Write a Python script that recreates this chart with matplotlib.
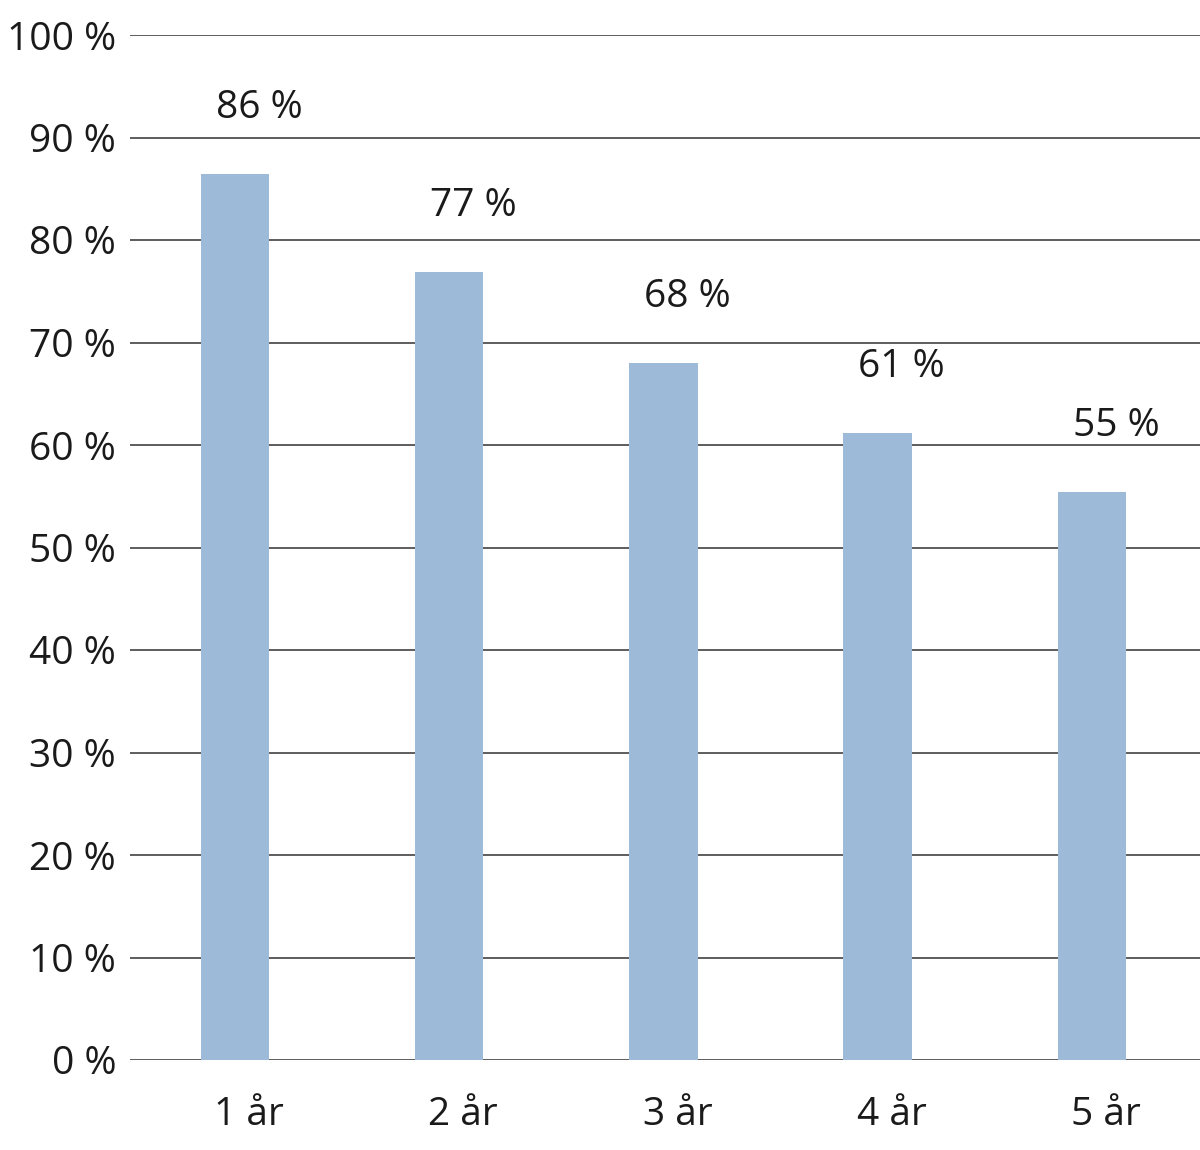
import matplotlib
matplotlib.use("Agg")
import matplotlib.pyplot as plt
import matplotlib.transforms as mtransforms

categories = ["1 år", "2 år", "3 år", "4 år", "5 år"]
values = [86.4, 76.9, 68.0, 61.2, 55.4]
labels = ["86 %", "77 %", "68 %", "61 %", "55 %"]
yticks = [0, 10, 20, 30, 40, 50, 60, 70, 80, 90, 100]
ytick_labels = [f"{v} %" for v in yticks]

plt.rcParams['font.family'] = ['Open Sans', 'DejaVu Sans']

fig = plt.figure(figsize=(12, 11.5), dpi=100)
ax = fig.add_axes([130/1200, 1 - 1060/1150, 1070/1200, 1025/1150])

x = list(range(len(categories)))
ax.bar(x, values, width=0.32, color="#9dbad8", zorder=3)

for xi, v, lab in zip(x, values, labels):
    ax.annotate(lab, (xi, v), xytext=(24, 47), textcoords="offset pixels",
                ha="center", va="bottom", fontsize=28, color="#1a1a1a")

ax.set_ylim(0, 100)
ax.set_xlim(-0.49, 4.505)
ax.set_yticks(yticks)
ax.set_yticklabels(ytick_labels)
ax.set_xticks(x)
ax.set_xticklabels(categories)
ax.tick_params(axis="y", length=0, pad=10, labelsize=28, labelcolor="#1a1a1a")
ax.tick_params(axis="x", length=0, pad=26, labelsize=28, labelcolor="#1a1a1a")
shift = mtransforms.ScaledTranslation(14/100, 0, fig.dpi_scale_trans)
for lbl in ax.get_xticklabels():
    lbl.set_transform(lbl.get_transform() + shift)
for yt in yticks:
    ax.axhline(yt, color="#505050", linewidth=1.3, zorder=1)
for s in ax.spines.values():
    s.set_visible(False)

fig.savefig("out.png", dpi=100)
